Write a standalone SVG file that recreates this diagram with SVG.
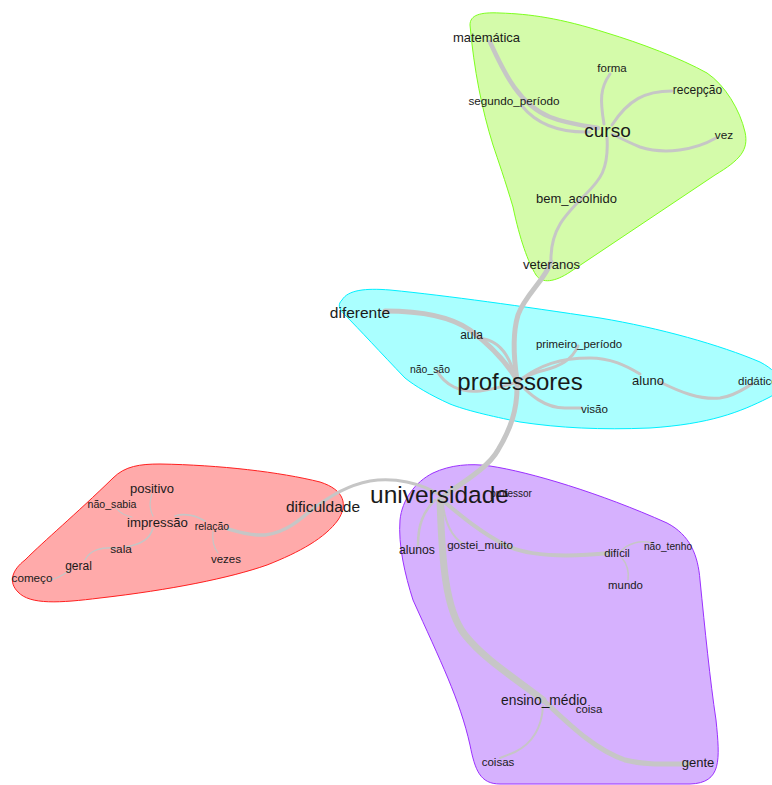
<svg xmlns="http://www.w3.org/2000/svg" width="772" height="785" viewBox="0 0 772 785">
<style>
.hull{stroke-width:1}
.e{fill:none;stroke:#c6c6c6;stroke-linecap:round}
text{font-family:"Liberation Sans",Arial,sans-serif;fill:#1a1a1a;text-anchor:middle}
</style>
<rect width="772" height="785" fill="#ffffff"/>
<g id="hulls">
<path id="hull-curso" class="hull" fill="#d4fbaa" stroke="#7fff1f" d="M 470,25 C 470,15 480,12 500,13 C 530,14 560,18 607,33 C 640,43 680,58 707,73 C 725,85 740,110 745,132 C 749,150 740,160 715,175 L 570,272 C 555,282 542,284 536,275 C 528,262 520,240 513,207 C 505,180 498,160 493,145 C 482,110 474,70 470,25 Z"/>
<path id="hull-professores" class="hull" fill="#aaffff" stroke="#00f0ff" d="M 342,300 C 348,290 365,288 390,290 C 450,296 520,306 600,318 C 660,328 720,345 760,362 C 785,375 785,390 768,398 C 740,412 710,424 650,428 C 600,430 560,428 520,422 C 490,416 465,410 450,404 C 430,395 415,386 405,378 C 380,352 360,330 345,315 C 338,308 338,304 342,300 Z"/>
<path id="hull-dificuldade" class="hull" fill="#ffaaaa" stroke="#ff2020" d="M 113,478 C 125,466 140,464 160,464 C 220,465 280,472 320,482 C 345,490 348,505 338,520 C 325,538 300,552 267,565 C 230,578 170,590 100,598 C 60,603 30,605 18,592 C 8,582 12,570 25,560 C 45,540 75,515 113,478 Z"/>
<path id="hull-universidade" class="hull" fill="#d6b1fe" stroke="#9b30ff" d="M 433,473 C 450,465 470,463 490,466 C 530,472 600,493 667,523 C 690,535 698,555 700,580 C 705,630 710,680 716,720 C 720,760 722,783 690,784 L 500,784 C 480,784 475,770 470,745 C 460,700 440,660 413,600 C 405,575 398,545 400,520 C 402,500 415,482 433,473 Z"/>
</g>
<g id="connectors">
<path class="e" stroke-width="4.5" d="M 490,42 C 505,75 520,105 550,117 C 565,123 580,125 598,128"/>
<path class="e" stroke-width="3" d="M 522,106 C 535,122 555,133 590,132"/>
<path class="e" stroke-width="3" d="M 610,74 C 600,88 600,100 604,124"/>
<path class="e" stroke-width="3" d="M 672,91 C 645,91 628,100 612,125"/>
<path class="e" stroke-width="3" d="M 716,138 C 695,150 665,155 640,147 C 630,143 620,138 612,134"/>
<path class="e" stroke-width="3" d="M 607,137 C 609,170 600,180 585,195 C 565,215 550,230 551,262"/>
<path class="e" stroke-width="5" d="M 551,262 C 545,280 525,295 518,315 C 512,335 514,360 517,380"/>
<path class="e" stroke-width="5" d="M 517,382 C 518,410 510,430 498,450 C 490,465 470,478 445,495"/>
<path class="e" stroke-width="5" d="M 385,311 C 420,311 450,316 470,330 C 490,345 505,360 517,380"/>
<path class="e" stroke-width="3" d="M 484,339 C 500,342 510,355 516,380"/>
<path class="e" stroke-width="3" d="M 437,371 C 445,385 460,393 480,391 C 495,389 505,386 517,382"/>
<path class="e" stroke-width="3" d="M 578,346 C 572,360 560,366 545,370 C 532,373 525,377 518,381"/>
<path class="e" stroke-width="3" d="M 520,380 C 540,365 560,358 590,358 C 610,358 625,365 640,374"/>
<path class="e" stroke-width="3" d="M 660,382 C 680,392 700,400 720,398 C 735,396 745,388 752,384"/>
<path class="e" stroke-width="3" d="M 518,382 C 530,395 545,408 565,408 L 582,408"/>
<path class="e" stroke-width="3" d="M 440,495 C 420,483 395,477 370,481 C 345,486 330,497 315,507"/>
<path class="e" stroke-width="3.5" d="M 315,507 C 300,520 285,533 265,535 C 250,536 240,532 228,529"/>
<path class="e" stroke-width="1.5" d="M 175,516 C 185,513 195,515 205,521"/>
<path class="e" stroke-width="1.2" d="M 152,494 C 149,502 150,510 153,516"/>
<path class="e" stroke-width="1.2" d="M 116,508 C 120,513 125,516 132,517"/>
<path class="e" stroke-width="1.5" d="M 153,528 C 150,540 140,545 125,547"/>
<path class="e" stroke-width="1.5" d="M 118,548 C 100,547 90,550 85,560"/>
<path class="e" stroke-width="1.5" d="M 70,570 C 62,576 55,580 48,580"/>
<path class="e" stroke-width="1.2" d="M 213,531 C 212,540 214,548 218,553"/>
<path class="e" stroke-width="7" d="M 440,500 C 442,560 445,610 465,635 C 485,660 515,678 543,700"/>
<path class="e" stroke-width="5" d="M 543,700 C 570,725 595,750 625,760 C 645,765 665,764 688,764"/>
<path class="e" stroke-width="2" d="M 543,706 C 542,725 535,742 515,752 L 500,758"/>
<path class="e" stroke-width="2.5" d="M 435,500 C 423,512 418,525 418,545"/>
<path class="e" stroke-width="4" d="M 442,500 C 460,515 480,532 505,545 C 525,555 560,558 610,553"/>
<path class="e" stroke-width="2" d="M 443,505 C 445,520 450,535 462,543"/>
<path class="e" stroke-width="1.5" d="M 620,552 C 628,543 640,540 652,543"/>
<path class="e" stroke-width="1.5" d="M 622,558 C 628,565 629,572 628,580"/>
</g>
<g id="n-matematica"><text x="486.5" y="42" font-size="13">matemática</text></g>
<g id="n-forma"><text x="612" y="72" font-size="11.5">forma</text></g>
<g id="n-recepcao"><text x="697.5" y="94" font-size="12">recepção</text></g>
<g id="n-segundo_periodo"><text x="514" y="105" font-size="11.7">segundo_período</text></g>
<g id="n-curso"><text x="607.5" y="137" font-size="19">curso</text></g>
<g id="n-vez"><text x="724" y="139" font-size="11.8">vez</text></g>
<g id="n-bem_acolhido"><text x="576.5" y="203" font-size="13">bem_acolhido</text></g>
<g id="n-veteranos"><text x="551.5" y="269" font-size="13">veteranos</text></g>
<g id="n-diferente"><text x="360" y="318" font-size="15.5">diferente</text></g>
<g id="n-aula"><text x="471.5" y="339" font-size="12">aula</text></g>
<g id="n-primeiro_periodo"><text x="579" y="348" font-size="11.4">primeiro_período</text></g>
<g id="n-nao_sao"><text x="430" y="373" font-size="10.4">não_são</text></g>
<g id="n-professores"><text x="520" y="390" font-size="24">professores</text></g>
<g id="n-aluno"><text x="648" y="385" font-size="13">aluno</text></g>
<g id="n-didatico"><text x="738" y="385" font-size="11.5" style="text-anchor:start">didático</text></g>
<g id="n-visao"><text x="594.5" y="413" font-size="11.6">visão</text></g>
<g id="n-positivo"><text x="152" y="493" font-size="13">positivo</text></g>
<g id="n-nao_sabia"><text x="112" y="508" font-size="10.6">não_sabia</text></g>
<g id="n-impressao"><text x="157.5" y="527" font-size="13.2">impressão</text></g>
<g id="n-relacao"><text x="212" y="530" font-size="10.5">relação</text></g>
<g id="n-dificuldade"><text x="323" y="512" font-size="15.5">dificuldade</text></g>
<g id="n-sala"><text x="121" y="553" font-size="11.8">sala</text></g>
<g id="n-vezes"><text x="226" y="563" font-size="11.5">vezes</text></g>
<g id="n-geral"><text x="78.5" y="570" font-size="12">geral</text></g>
<g id="n-comeco"><text x="32" y="582" font-size="11.7">começo</text></g>
<g id="n-professor"><text x="511" y="497" font-size="10">professor</text></g>
<g id="n-universidade"><text x="439.5" y="503" font-size="24.5">universidade</text></g>
<g id="n-alunos"><text x="417" y="554" font-size="12.2">alunos</text></g>
<g id="n-gostei_muito"><text x="480" y="549" font-size="11.6">gostei_muito</text></g>
<g id="n-dificil"><text x="617" y="557" font-size="11.3">difícil</text></g>
<g id="n-nao_tenho"><text x="668" y="550" font-size="10.2">não_tenho</text></g>
<g id="n-mundo"><text x="625.5" y="589" font-size="11.4">mundo</text></g>
<g id="n-ensino_medio"><text x="544" y="705" font-size="13.8">ensino_médio</text></g>
<g id="n-coisa"><text x="589" y="713" font-size="11.4">coisa</text></g>
<g id="n-coisas"><text x="498" y="766" font-size="11.5">coisas</text></g>
<g id="n-gente"><text x="698" y="767" font-size="13">gente</text></g>
</svg>
